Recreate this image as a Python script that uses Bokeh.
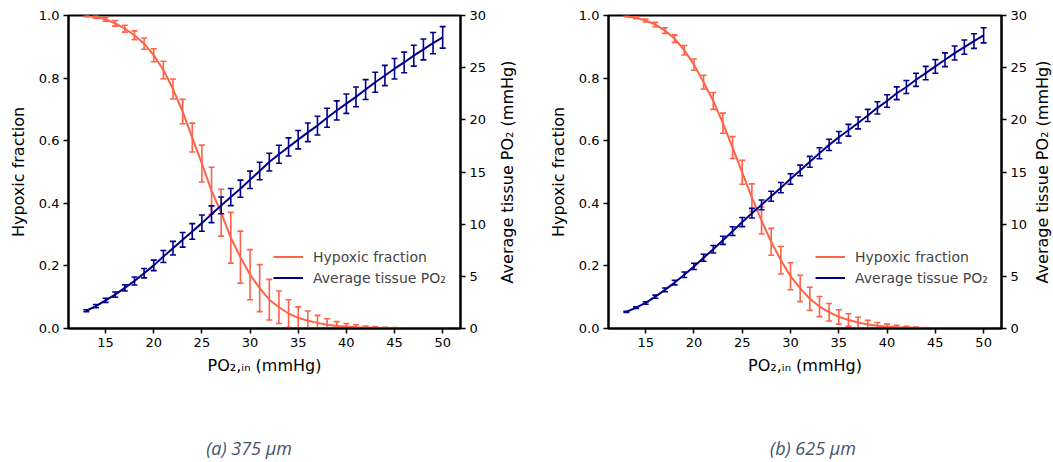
import math
from bokeh.plotting import figure
from bokeh.models import (Range1d, LinearAxis, Legend, LegendItem, Div,
                          FixedTicker, PrintfTickFormatter)
from bokeh.core.properties import value
from bokeh.layouts import row, column
from bokeh.embed import file_html
from bokeh.resources import INLINE

# ---------------- data ----------------
po2_in = list(range(13, 51))

hyp_a = [0.998, 0.995, 0.988, 0.975, 0.958, 0.937, 0.910, 0.873, 0.826, 0.765,
         0.693, 0.610, 0.527, 0.440, 0.370, 0.290, 0.228, 0.172, 0.129, 0.092,
         0.068, 0.048, 0.034, 0.025, 0.018, 0.012, 0.008, 0.006, 0.004, 0.003,
         0.002, 0.001, 0.001, 0.0005, 0.0003, 0.0002, 0.0001, 0.0001]
hyp_a_err = [0.002, 0.004, 0.006, 0.009, 0.011, 0.014, 0.018, 0.021, 0.028, 0.032,
             0.039, 0.046, 0.059, 0.075, 0.075, 0.081, 0.083, 0.080, 0.075, 0.065,
             0.052, 0.044, 0.035, 0.031, 0.024, 0.019, 0.014, 0.010, 0.008, 0.005,
             0.004, 0.003, 0.002, 0.002, 0.001, 0.001, 0.001, 0.001]
tis_a = [1.70, 2.15, 2.70, 3.25, 3.90, 4.55, 5.30, 6.05, 6.90, 7.70,
         8.50, 9.30, 10.10, 10.95, 11.80, 12.60, 13.40, 14.25, 15.10, 15.95,
         16.70, 17.40, 18.10, 18.80, 19.45, 20.20, 20.90, 21.55, 22.20, 22.90,
         23.60, 24.25, 24.90, 25.50, 26.15, 26.75, 27.35, 27.90]
tis_a_err = [0.10, 0.15, 0.20, 0.25, 0.30, 0.38, 0.45, 0.50, 0.58, 0.65,
             0.70, 0.75, 0.78, 0.80, 0.80, 0.82, 0.82, 0.83, 0.84, 0.85,
             0.86, 0.87, 0.88, 0.89, 0.90, 0.91, 0.92, 0.93, 0.94, 0.95,
             0.96, 0.97, 0.98, 0.99, 1.00, 1.00, 1.02, 1.03]

hyp_b = [0.997, 0.993, 0.984, 0.971, 0.952, 0.926, 0.889, 0.843, 0.787, 0.727,
         0.656, 0.578, 0.499, 0.418, 0.345, 0.277, 0.218, 0.167, 0.128, 0.095,
         0.070, 0.052, 0.037, 0.027, 0.019, 0.013, 0.009, 0.006, 0.004, 0.003,
         0.002, 0.001, 0.001, 0.0005, 0.0003, 0.0002, 0.0001, 0.0001]
hyp_b_err = [0.001, 0.003, 0.005, 0.007, 0.009, 0.012, 0.015, 0.018, 0.022, 0.027,
             0.032, 0.035, 0.038, 0.044, 0.043, 0.043, 0.044, 0.043, 0.042, 0.037,
             0.032, 0.028, 0.023, 0.020, 0.017, 0.013, 0.010, 0.008, 0.006, 0.004,
             0.003, 0.002, 0.001, 0.001, 0.001, 0.001, 0.001, 0.001]
tis_b = [1.60, 2.00, 2.45, 3.05, 3.70, 4.40, 5.15, 5.95, 6.78, 7.60,
         8.45, 9.33, 10.20, 11.05, 11.85, 12.68, 13.50, 14.33, 15.15, 15.98,
         16.80, 17.60, 18.33, 19.00, 19.70, 20.42, 21.15, 21.80, 22.55, 23.15,
         23.84, 24.48, 25.12, 25.76, 26.40, 26.97, 27.55, 28.10]
tis_b_err = [0.06, 0.09, 0.12, 0.15, 0.18, 0.22, 0.26, 0.30, 0.33, 0.36,
             0.39, 0.42, 0.44, 0.46, 0.47, 0.48, 0.49, 0.50, 0.51, 0.52,
             0.53, 0.54, 0.55, 0.56, 0.57, 0.58, 0.59, 0.60, 0.61, 0.62,
             0.63, 0.64, 0.65, 0.66, 0.67, 0.68, 0.70, 0.72]

x_ticks = [15, 20, 25, 30, 35, 40, 45, 50]
y_left_ticks = [0.0, 0.2, 0.4, 0.6, 0.8, 1.0]
y_right_ticks = [0, 5, 10, 15, 20, 25, 30]

x_label = "PO\u2082,\u1d62\u2099 (mmHg)"
y_left_label = "Hypoxic fraction"
y_right_label = "Average tissue PO\u2082 (mmHg)"
legend_labels = ["Hypoxic fraction", "Average tissue PO\u2082"]
captions = ["(a) 375 \u03bcm", "(b) 625 \u03bcm"]

ORANGE = "#FF6347"
NAVY = "#00008B"
FONT = "DejaVu Sans"
FIG_H = 400
TOP = 15
BOTTOM = 72


def style_axis(ax, ticks, fmt=None):
    ax.ticker = FixedTicker(ticks=ticks)
    if fmt:
        ax.formatter = PrintfTickFormatter(format=fmt)
    ax.axis_line_color = "black"
    ax.axis_line_width = 2
    ax.major_tick_line_color = "black"
    ax.major_tick_line_width = 1.5
    ax.major_tick_out = 5
    ax.major_tick_in = 0
    ax.minor_tick_line_color = None
    ax.major_label_text_font = FONT
    ax.major_label_text_font_size = "13px"
    ax.major_label_text_color = "black"
    ax.major_label_standoff = 4
    ax.axis_label_text_font = FONT
    ax.axis_label_text_font_size = "16px"
    ax.axis_label_text_font_style = "normal"
    ax.axis_label_text_color = "black"


def make_panel(hyp, hyp_err, tis, tis_err, width, left, right, legend_x):
    p = figure(width=width, height=FIG_H, output_backend="svg",
               toolbar_location=None,
               x_range=Range1d(11.15, 51.85), y_range=Range1d(0, 1),
               min_border_left=left, min_border_right=right,
               min_border_top=TOP, min_border_bottom=BOTTOM)
    p.extra_y_ranges = {"tis": Range1d(0, 30)}
    p.grid.visible = False
    p.outline_line_color = "black"
    p.outline_line_width = 2
    p.background_fill_color = "white"
    p.border_fill_color = "white"

    style_axis(p.xaxis[0], x_ticks)
    p.xaxis[0].axis_label = x_label
    p.xaxis[0].axis_label_standoff = 6
    style_axis(p.yaxis[0], y_left_ticks, "%.1f")
    p.yaxis[0].axis_label = y_left_label
    p.yaxis[0].axis_label_standoff = 8

    r_axis = LinearAxis(y_range_name="tis")
    style_axis(r_axis, y_right_ticks)
    p.add_layout(r_axis, "right")

    # hypoxic fraction (left axis)
    lo = [v - e for v, e in zip(hyp, hyp_err)]
    hi = [v + e for v, e in zip(hyp, hyp_err)]
    p.segment(x0=po2_in, y0=lo, x1=po2_in, y1=hi, line_color=ORANGE, line_width=1.6)
    p.scatter(x=po2_in, y=lo, marker="dash", size=6, line_color=ORANGE, line_width=1.6)
    p.scatter(x=po2_in, y=hi, marker="dash", size=6, line_color=ORANGE, line_width=1.6)
    l1 = p.line(x=po2_in, y=hyp, line_color=ORANGE, line_width=2)

    # tissue PO2 (right axis)
    lo2 = [v - e for v, e in zip(tis, tis_err)]
    hi2 = [v + e for v, e in zip(tis, tis_err)]
    p.segment(x0=po2_in, y0=lo2, x1=po2_in, y1=hi2, line_color=NAVY,
              line_width=1.6, y_range_name="tis")
    p.scatter(x=po2_in, y=lo2, marker="dash", size=6, line_color=NAVY,
              line_width=1.6, y_range_name="tis")
    p.scatter(x=po2_in, y=hi2, marker="dash", size=6, line_color=NAVY,
              line_width=1.6, y_range_name="tis")
    l2 = p.line(x=po2_in, y=tis, line_color=NAVY, line_width=2, y_range_name="tis")

    legend = Legend(items=[LegendItem(label=legend_labels[0], renderers=[l1]),
                           LegendItem(label=legend_labels[1], renderers=[l2])],
                    location=(legend_x, 40))
    legend.border_line_alpha = 0
    legend.background_fill_alpha = 0
    legend.label_text_font = FONT
    legend.label_text_font_size = "14px"
    legend.glyph_width = 30
    legend.glyph_height = 21
    legend.label_height = 21
    legend.spacing = 0
    legend.padding = 0
    legend.margin = 0
    legend.label_standoff = 10
    p.add_layout(legend)
    return p


def side_label(text, width, xpos):
    # narrow figure holding the right-axis title, rotated to read bottom-to-top
    s = figure(width=width, height=FIG_H, output_backend="svg",
               toolbar_location=None, x_axis_type=None, y_axis_type=None,
               x_range=Range1d(0, 1), y_range=Range1d(0, 1),
               min_border_left=0, min_border_right=0,
               min_border_top=TOP, min_border_bottom=BOTTOM)
    s.outline_line_color = None
    s.grid.visible = False
    s.text(x=[xpos], y=[0.5], text=[text], angle=math.pi / 2,
           text_align="center", text_baseline="middle",
           text_font=value(FONT), text_font_size=value("16px"),
           text_color="black")
    return s


def caption_div(text, width, left):
    html = ('<div style="margin-left:%dpx;width:200px;text-align:center;'
            'padding-top:39px;line-height:18px;font-family:\'Open Sans\';'
            'font-style:italic;font-size:18px;color:#44546A;">%s</div>') % (left, text)
    return Div(text=html, width=width, height=62, margin=0)


p1 = make_panel(hyp_a, hyp_a_err, tis_a, tis_a_err,
                width=496, left=68, right=36, legend_x=205)
s1 = side_label(y_right_label, 22, 0.5)
p2 = make_panel(hyp_b, hyp_b_err, tis_b, tis_b_err,
                width=513, left=90, right=30, legend_x=207)
s2 = side_label(y_right_label, 22, 0.5)

d1 = caption_div(captions[0], 518, 149)
d2 = caption_div(captions[1], 535, 195)

layout = column(row(p1, s1, p2, s2), row(d1, d2))
open("out.html", "w").write(file_html(layout, INLINE))
